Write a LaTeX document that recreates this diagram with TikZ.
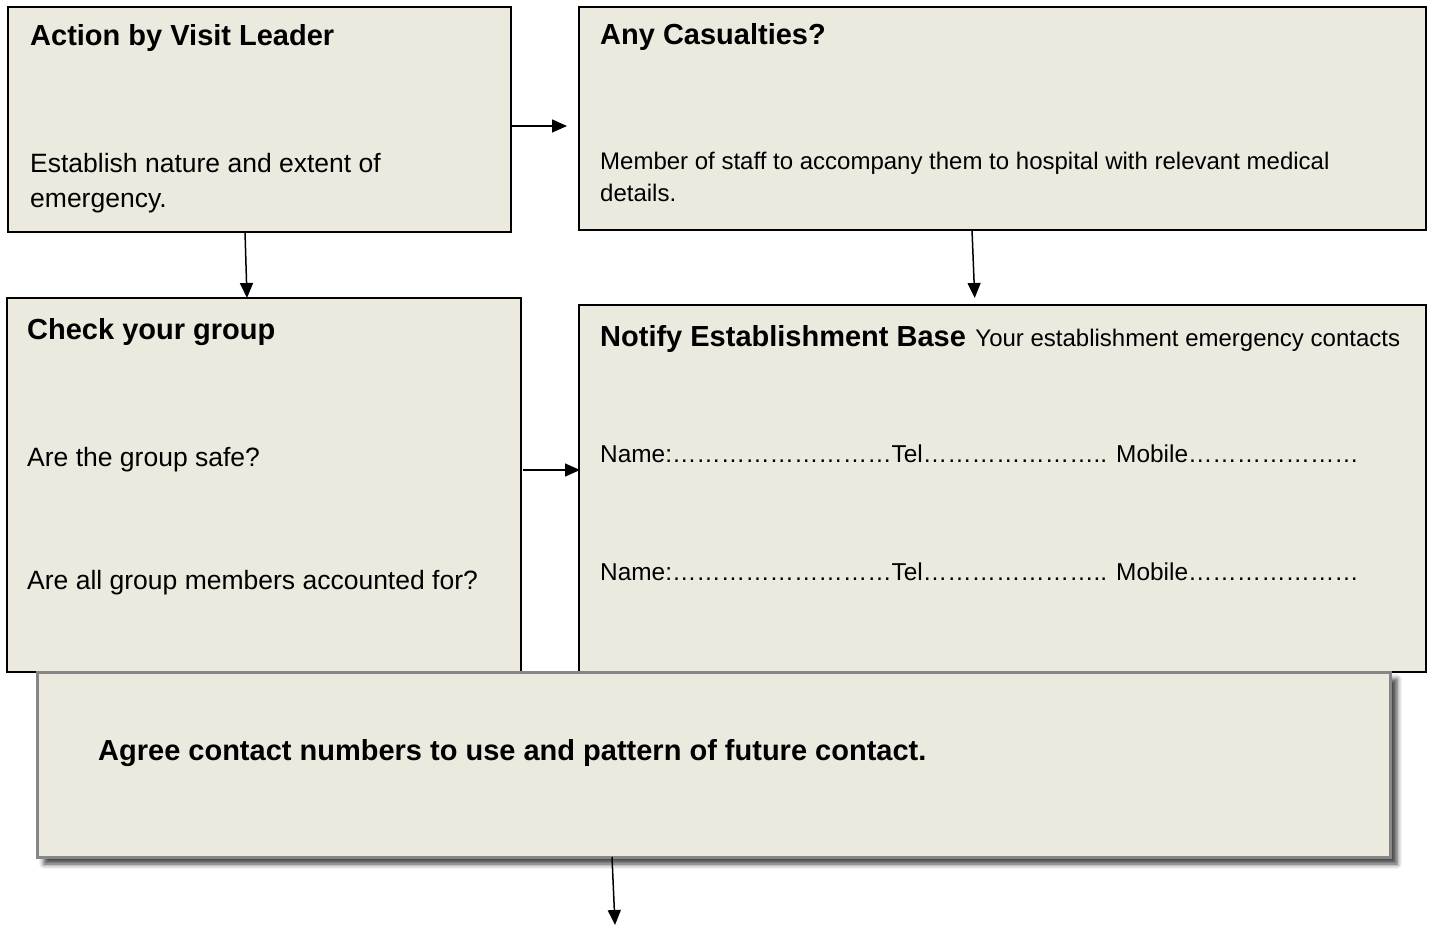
\documentclass[tikz,border=0pt]{standalone}
\usepackage{fontspec}
\setmainfont{Liberation Sans}
\usetikzlibrary{shadows.blur,arrows.meta}
\definecolor{boxfill}{HTML}{ECE9DF}
\definecolor{boxgray}{HTML}{878787}
\begin{document}
\begin{tikzpicture}[x=1pt,y=-1pt,
  box/.style={draw=black,line width=1.6pt,fill=boxfill,rectangle,inner sep=0pt,outer sep=0pt,anchor=north west},
  bigbox/.style={draw=boxgray,line width=3pt,fill=boxfill,rectangle,inner sep=0pt,outer sep=0pt,anchor=north west,
     blur shadow={shadow xshift=7pt,shadow yshift=-7pt,shadow blur radius=5pt,shadow opacity=75}},
  title/.style={anchor=base west,inner sep=0pt,font=\fontsize{29}{34}\selectfont\bfseries},
  bodyL/.style={anchor=base west,inner sep=0pt,font=\fontsize{26.5}{35}\selectfont},
  bodyS/.style={anchor=base west,inner sep=0pt,font=\fontsize{24}{32}\selectfont},
  dots/.style={anchor=base west,inner sep=0pt,font=\fontsize{24.4}{32}\selectfont},
  arr/.style={line width=1.5pt,-{Triangle[length=15pt,width=13pt]}}]
\useasboundingbox (0,0) rectangle (1432,925);
% boxes
\node[box,minimum width=503pt,minimum height=225pt] (a) at (8,7) {};
\node[box,minimum width=847pt,minimum height=223pt] (b) at (579,7) {};
\node[box,minimum width=514pt,minimum height=374pt] (c) at (7,298) {};
\node[box,minimum width=847pt,minimum height=367pt] (d) at (579,305) {};
\node[bigbox,minimum width=1353pt,minimum height=185pt] (e) at (37,672) {};
% texts
\node[title] (at) at (30,46) {Action by Visit Leader};
\node[bodyL] (a1) at (30,173) {Establish nature and extent of};
\node[bodyL] (a2) at (30,208) {emergency.};
\node[title] (bt) at (600,45) {Any Casualties?};
\node[bodyS] (b1) at (600,170) {Member of staff to accompany them to hospital with relevant medical};
\node[bodyS] (b2) at (600,202) {details.};
\node[title] (ct) at (27,339) {Check your group};
\node[bodyL] (c1) at (27,466) {Are the group safe?};
\node[bodyL] (c2) at (27,589) {Are all group members accounted for?};
\node[title] (dt) at (600,346) {Notify Establishment Base};
\node[bodyS,anchor=base west] (dt2) at ([xshift=9pt]dt.base east) {Your establishment emergency contacts};
\node[dots] (d1) at (600,462) {Name:………………………Tel………………….. Mobile…………………};
\node[dots] (d2) at (600,580) {Name:………………………Tel………………….. Mobile…………………};
\node[title] (et) at (98,760) {Agree contact numbers to use and pattern of future contact.};
% connectors
\coordinate (down) at (615,925);
\draw[arr,shorten >=12pt] ([yshift=-6.5pt]a.east) -- ([yshift=-6.5pt]a.east -| b.west);
\draw[arr] ([xshift=-14.5pt]a.south) -- ([xshift=-17pt]c.north);
\draw[arr,shorten >=7pt] ([xshift=-30.5pt]b.south) -- ([xshift=-27.5pt]d.north);
\draw[arr] ([shift={(2pt,15pt)}]c.east) -- ([shift={(1pt,18.5pt)}]d.west);
\draw[arr] ([xshift=-101.5pt]e.south) -- (down);
\end{tikzpicture}
\end{document}
